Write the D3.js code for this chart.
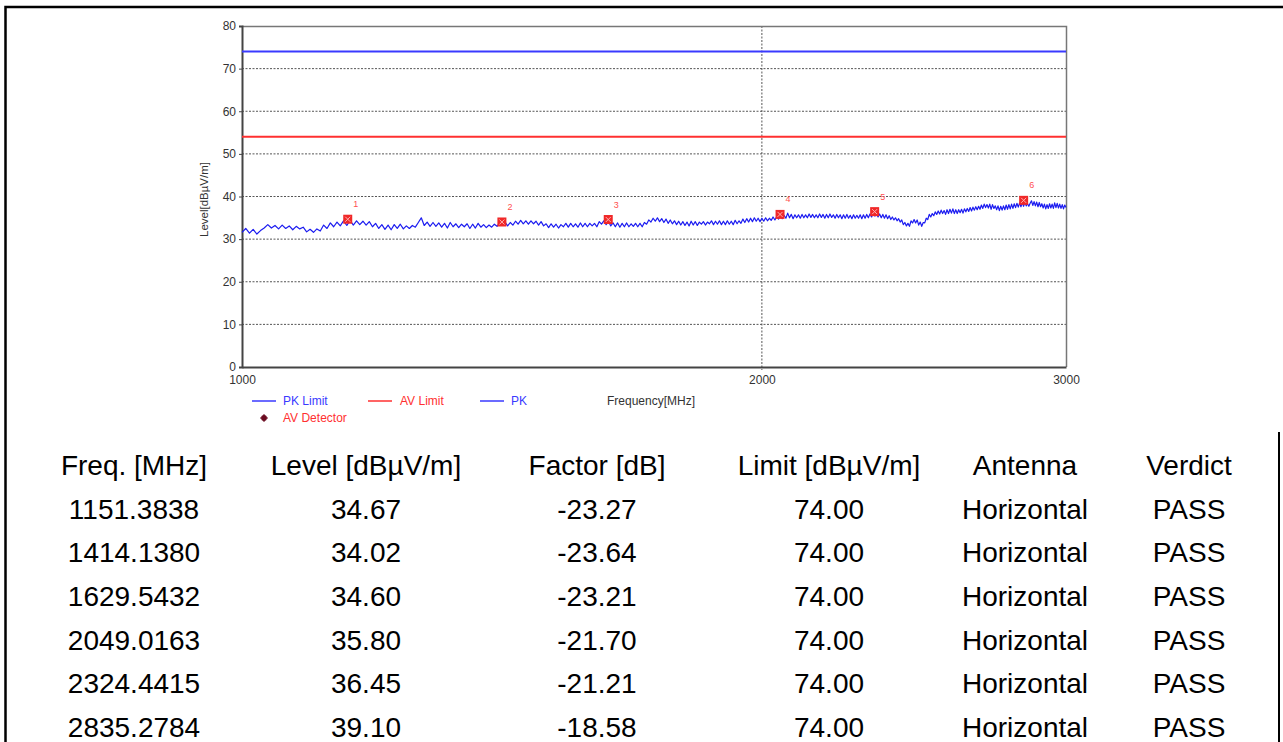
<!DOCTYPE html>
<html>
<head>
<meta charset="utf-8">
<script src="https://cdn.jsdelivr.net/npm/d3@7"></script>
<style>
  html, body { margin: 0; padding: 0; background: #ffffff; }
  svg { display: block; }
</style>
</head>
<body>
<svg id="chart" width="1283" height="742"></svg>
<script>
// ---------------- DATA ----------------
const sweepStartMHz = 1000;
const sweepStepMHz = 5;
// PK trace levels [dBµV/m], 5 MHz steps from 1000 to 3000 MHz (one line = 100 MHz)
const pkLevels = [
  31.6, 32.5, 31.4, 32.3, 31.2, 32.0, 32.6, 33.4, 32.6, 33.2, 32.4, 33.3, 32.5, 33.1, 32.2, 33.0, 32.4, 32.8, 31.7, 32.3,
  31.6, 32.4, 31.9, 33.3, 32.5, 33.8, 32.9, 34.0, 33.1, 34.3, 33.2, 34.4, 33.3, 34.3, 33.4, 34.2, 33.3, 34.1, 32.9, 33.7,
  32.5, 33.4, 32.3, 33.3, 32.2, 33.4, 32.5, 33.5, 32.4, 33.1, 32.5, 33.2, 32.8, 33.9, 35.0, 33.2, 34.0, 33.0, 33.9, 33.0,
  33.8, 32.8, 33.7, 32.6, 33.9, 32.9, 33.6, 32.7, 33.5, 32.9, 33.6, 32.5, 33.5, 32.6, 33.7, 32.8, 33.4, 32.7, 33.3, 32.8,
  33.5, 33.0, 33.9, 33.2, 34.0, 33.1, 33.9, 33.3, 34.2, 33.5, 34.4, 33.6, 34.3, 33.5, 34.3, 33.6, 34.2, 33.3, 34.1, 33.1,
  33.6, 32.7, 33.6, 32.8, 33.5, 32.6, 33.4, 32.9, 33.7, 32.8, 33.7, 32.9, 33.6, 32.8, 33.8, 32.9, 33.7, 32.9, 33.7, 33.1,
  33.7, 32.9, 34.1, 33.5, 34.3, 33.4, 34.2, 33.1, 33.8, 32.9, 33.8, 32.8, 33.7, 32.9, 33.8, 32.9, 33.6, 33.0, 33.7, 32.9,
  33.7, 32.9, 33.9, 33.5, 34.5, 34.0, 34.9, 34.2, 35.0, 34.1, 34.8, 33.9, 34.7, 33.7, 34.5, 33.6, 34.3, 33.4, 34.2, 33.3,
  34.1, 33.2, 34.0, 33.1, 34.2, 33.3, 34.1, 33.2, 34.0, 33.5, 34.1, 33.3, 34.0, 33.6, 34.3, 33.4, 34.2, 33.5, 34.3, 33.4,
  34.2, 33.4, 34.3, 33.5, 34.2, 33.4, 34.4, 33.6, 34.3, 33.7, 34.7, 33.9, 34.8, 34.0, 34.9, 34.1, 35.0, 34.2, 34.9, 34.1,
  34.9, 34.2, 35.0, 34.3, 34.9, 34.4, 35.2, 34.5, 35.3, 34.7, 35.5, 34.8, 35.6, 34.9, 36.1, 35.0, 35.8, 34.8, 35.7, 35.0,
  35.7, 34.9, 35.8, 35.0, 35.7, 35.0, 35.9, 35.1, 35.8, 35.0, 35.7, 35.0, 35.9, 35.1, 35.8, 34.9, 35.8, 35.0, 35.9, 35.1,
  35.7, 34.9, 35.8, 35.0, 35.7, 34.8, 35.7, 34.9, 35.8, 34.9, 35.6, 34.8, 35.7, 34.9, 35.6, 34.9, 35.7, 34.8, 35.7, 34.9,
  35.8, 35.0, 35.9, 35.2, 36.2, 35.4, 36.0, 35.2, 35.9, 35.0, 35.8, 34.9, 35.7, 34.8, 35.5, 34.6, 35.2, 34.5, 35.0, 34.3,
  34.8, 34.0, 34.5, 33.4, 33.9, 33.1, 33.7, 33.0, 34.3, 33.8, 34.6, 33.8, 34.5, 33.3, 34.0, 33.0, 33.9, 33.8, 34.9, 34.6,
  35.8, 35.2, 36.0, 35.5, 36.4, 35.8, 36.6, 35.9, 36.8, 36.0, 36.7, 35.8, 36.9, 36.0, 37.0, 36.1, 37.1, 36.0, 36.9, 36.0,
  36.9, 36.2, 37.0, 36.1, 37.1, 36.4, 37.2, 36.5, 37.4, 36.6, 37.5, 36.8, 37.6, 36.9, 37.7, 37.0, 38.0, 37.2, 38.2, 37.4,
  38.1, 37.3, 38.2, 37.0, 38.1, 37.2, 37.8, 36.9, 37.8, 36.7, 37.7, 36.8, 37.8, 36.9, 38.0, 37.0, 38.1, 37.1, 38.2, 37.2,
  38.3, 37.4, 38.4, 37.5, 38.5, 37.6, 38.6, 37.7, 38.7, 37.8, 38.3, 37.7, 38.4, 39.0, 37.9, 38.8, 37.8, 38.7, 37.6, 38.6,
  37.6, 38.3, 37.3, 38.2, 37.1, 38.1, 37.2, 38.3, 37.3, 38.2, 37.2, 38.5, 37.4, 38.4, 37.3, 38.2, 37.2, 38.1, 37.1, 38.0,
  37.4
];

const pkLimit = 74;
const avLimit = 54;

// Final measurement points
const markerFreqs   = ["1151.3838", "1414.1380", "1629.5432", "2049.0163", "2324.4415", "2835.2784"];
const markerLevels  = ["34.67", "34.02", "34.60", "35.80", "36.45", "39.10"];
const markerFactors = ["-23.27", "-23.64", "-23.21", "-21.70", "-21.21", "-18.58"];
const markerLimits  = ["74.00", "74.00", "74.00", "74.00", "74.00", "74.00"];
const markerAntenna = ["Horizontal", "Horizontal", "Horizontal", "Horizontal", "Horizontal", "Horizontal"];
const markerVerdict = ["PASS", "PASS", "PASS", "PASS", "PASS", "PASS"];

const tableHeaders = ["Freq. [MHz]", "Level [dBµV/m]", "Factor [dB]", "Limit [dBµV/m]", "Antenna", "Verdict"];

const xTicks = [1000, 2000, 3000];
const yTicks = [0, 10, 20, 30, 40, 50, 60, 70, 80];

const legendItems = [
  { label: "PK Limit", color: "#3a3aff", kind: "line" },
  { label: "AV Limit", color: "#ff3030", kind: "line" },
  { label: "PK", color: "#3a3aff", kind: "line" },
  { label: "AV Detector", color: "#ff3030", kind: "dot" }
];

// ---------------- DRAW ----------------
const svg = d3.select("#chart");
const plot = { left: 242, right: 1066, top: 26, bottom: 367 };

const x = d3.scaleLog().domain([1000, 3000]).range([plot.left, plot.right]);
const y = d3.scaleLinear().domain([0, 80]).range([plot.bottom, plot.top]);

// outer frame
svg.append("path")
  .attr("d", `M5.5,742 L5.5,7 L1283,7`)
  .attr("fill", "none").attr("stroke", "#000").attr("stroke-width", 2.5);
svg.append("line")
  .attr("x1", 1279).attr("x2", 1279).attr("y1", 432).attr("y2", 742)
  .attr("stroke", "#000").attr("stroke-width", 2);

// horizontal grid
svg.append("g").selectAll("line")
  .data(yTicks.filter(d => d > 0 && d < 80))
  .join("line")
  .attr("x1", plot.left).attr("x2", plot.right)
  .attr("y1", d => y(d)).attr("y2", d => y(d))
  .attr("stroke", "#555").attr("stroke-width", 1)
  .attr("stroke-dasharray", "2,1.5");

// vertical grid at inner ticks
svg.append("g").selectAll("line")
  .data(xTicks.filter(d => d > 1000 && d < 3000))
  .join("line")
  .attr("x1", d => x(d)).attr("x2", d => x(d))
  .attr("y1", plot.top).attr("y2", plot.bottom + 3)
  .attr("stroke", "#555").attr("stroke-width", 1)
  .attr("stroke-dasharray", "2,1.5");

// plot border (top and right grey)
svg.append("path")
  .attr("d", `M${plot.left},${plot.top + 0.5} L${plot.right + 0.5},${plot.top + 0.5} L${plot.right + 0.5},${plot.bottom}`)
  .attr("fill", "none").attr("stroke", "#777").attr("stroke-width", 1.5);

// axes
const yAxis = d3.axisLeft(y).tickValues(yTicks).tickSize(3).tickPadding(3);
const xAxis = d3.axisBottom(x).tickValues(xTicks).tickFormat(d3.format("d")).tickSize(0).tickPadding(8);

const gy = svg.append("g").attr("transform", `translate(${plot.left},0)`).call(yAxis);
gy.select(".domain").attr("stroke", "#444").attr("stroke-width", 2);
gy.selectAll(".tick line").attr("stroke", "#444");
gy.selectAll(".tick text")
  .attr("fill", "#333").attr("font-family", "Liberation Sans, Arial, sans-serif")
  .attr("font-size", 12);

const gx = svg.append("g").attr("transform", `translate(0,${plot.bottom})`).call(xAxis);
gx.select(".domain").attr("stroke", "#444").attr("stroke-width", 2);
gx.selectAll(".tick text")
  .attr("fill", "#333").attr("font-family", "Liberation Sans, Arial, sans-serif")
  .attr("font-size", 12);

// y label
svg.append("text")
  .attr("transform", `translate(208,${(plot.top + plot.bottom) / 2 + 3}) rotate(-90)`)
  .attr("text-anchor", "middle")
  .attr("font-family", "Liberation Sans, Arial, sans-serif")
  .attr("font-size", 11.5).attr("fill", "#333")
  .text("Level[dBµV/m]");

// limit lines
svg.append("line")
  .attr("x1", plot.left).attr("x2", plot.right)
  .attr("y1", y(pkLimit)).attr("y2", y(pkLimit))
  .attr("stroke", "#3a3aff").attr("stroke-width", 2);
svg.append("line")
  .attr("x1", plot.left).attr("x2", plot.right)
  .attr("y1", y(avLimit)).attr("y2", y(avLimit))
  .attr("stroke", "#ff3030").attr("stroke-width", 2);

// PK trace
const traceData = pkLevels.map((v, i) => [sweepStartMHz + i * sweepStepMHz, v]);
svg.append("path")
  .datum(traceData)
  .attr("fill", "none")
  .attr("stroke", "#1c1cf0")
  .attr("stroke-width", 1.2)
  .attr("stroke-linejoin", "round")
  .attr("d", d3.line().x(d => x(d[0])).y(d => y(d[1])));

// markers
const markers = markerFreqs.map((f, i) => ({ f: +f, v: +markerLevels[i], n: i + 1 }));
const mg = svg.append("g").selectAll("g").data(markers).join("g")
  .attr("transform", d => `translate(${x(d.f)},${y(d.v)})`);
mg.append("rect")
  .attr("x", -4.5).attr("y", -4.5).attr("width", 9).attr("height", 9)
  .attr("fill", "#f02828");
mg.append("path")
  .attr("d", "M-2.5,-2.5 L2.5,2.5 M-2.5,2.5 L2.5,-2.5")
  .attr("stroke", "#ffb0b0").attr("stroke-width", 1);
mg.append("text")
  .attr("x", 8).attr("y", -12)
  .attr("text-anchor", "middle")
  .attr("font-family", "Liberation Sans, Arial, sans-serif")
  .attr("font-size", 9).attr("fill", "#ff5050")
  .text(d => d.n);

// legend
const legendFont = "Liberation Sans, Arial, sans-serif";
const legPos = [
  { lx: 252, tx: 283, y: 401 },
  { lx: 368, tx: 400, y: 401 },
  { lx: 480, tx: 511, y: 401 },
  { lx: 258, tx: 283, y: 418 }
];
legendItems.forEach((it, i) => {
  const p = legPos[i];
  if (it.kind === "line") {
    svg.append("line")
      .attr("x1", p.lx).attr("x2", p.lx + 24).attr("y1", p.y).attr("y2", p.y)
      .attr("stroke", it.color).attr("stroke-width", 1.5);
  } else {
    svg.append("path")
      .attr("d", d3.symbol(d3.symbolCircle, 26)())
      .attr("transform", `translate(${p.lx + 6},${p.y})`)
      .attr("fill", "#6a0a20");
    svg.append("path")
      .attr("d", "M-4,0 L4,0 M0,-4 L0,4")
      .attr("transform", `translate(${p.lx + 6},${p.y})`)
      .attr("stroke", "#6a0a20").attr("stroke-width", 1);
  }
  svg.append("text")
    .attr("x", p.tx).attr("y", p.y + 4)
    .attr("font-family", legendFont).attr("font-size", 12)
    .attr("fill", it.color)
    .text(it.label);
});
svg.append("text")
  .attr("x", 607).attr("y", 405)
  .attr("font-family", legendFont).attr("font-size", 12)
  .attr("fill", "#333")
  .text("Frequency[MHz]");

// table
const colCenters = [134, 366, 597, 829, 1025, 1189];
const rowBaselines = [475, 519, 562, 606, 650, 693, 737];
const tableRows = markerFreqs.map((f, i) => [f, markerLevels[i], markerFactors[i], markerLimits[i], markerAntenna[i], markerVerdict[i]]);
const allRows = [tableHeaders].concat(tableRows);
const tg = svg.append("g")
  .attr("font-family", "Liberation Sans, Arial, sans-serif")
  .attr("font-size", 28).attr("fill", "#000");
allRows.forEach((row, r) => {
  row.forEach((cell, c) => {
    tg.append("text")
      .attr("x", colCenters[c]).attr("y", rowBaselines[r])
      .attr("text-anchor", "middle")
      .text(cell);
  });
});
</script>
</body>
</html>
